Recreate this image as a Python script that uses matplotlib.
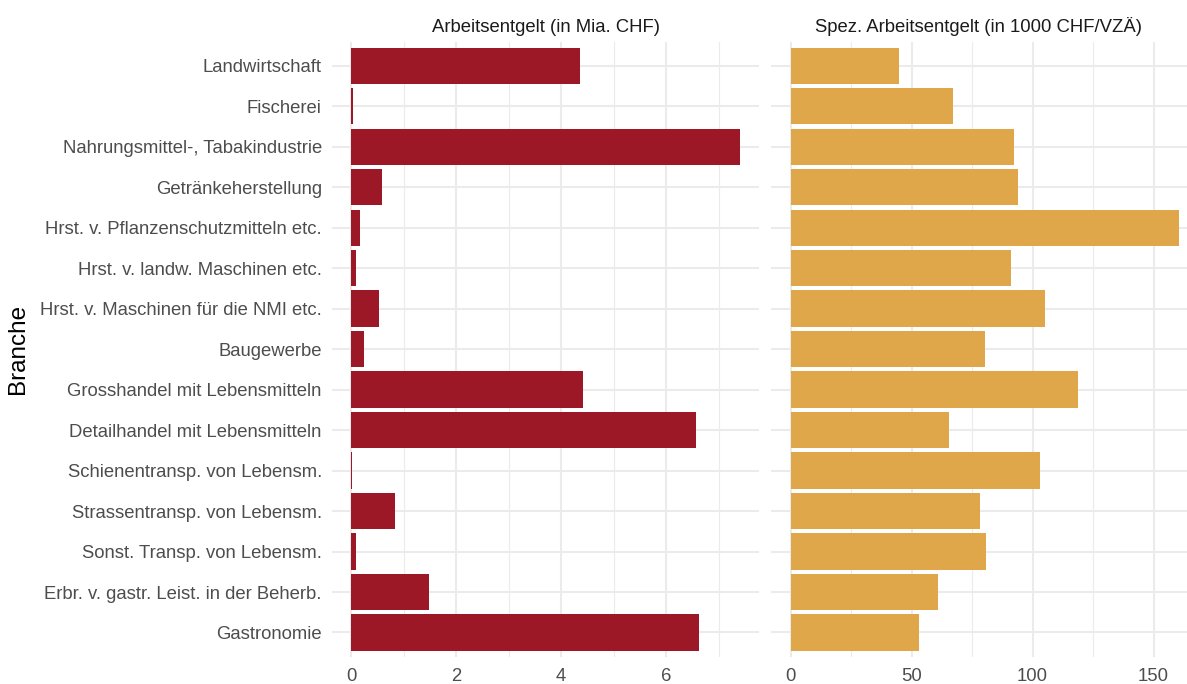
import matplotlib
matplotlib.use("Agg")
import matplotlib.pyplot as plt
from matplotlib.ticker import MultipleLocator

# Werte
branchen = [
    "Landwirtschaft",
    "Fischerei",
    "Nahrungsmittel-, Tabakindustrie",
    "Getränkeherstellung",
    "Hrst. v. Pflanzenschutzmitteln etc.",
    "Hrst. v. landw. Maschinen etc.",
    "Hrst. v. Maschinen für die NMI etc.",
    "Baugewerbe",
    "Grosshandel mit Lebensmitteln",
    "Detailhandel mit Lebensmitteln",
    "Schienentransp. von Lebensm.",
    "Strassentransp. von Lebensm.",
    "Sonst. Transp. von Lebensm.",
    "Erbr. v. gastr. Leist. in der Beherb.",
    "Gastronomie",
]
arbeitsentgelt = [4.36, 0.03, 7.41, 0.59, 0.18, 0.09, 0.53, 0.24, 4.41, 6.58,
                  0.01, 0.84, 0.09, 1.49, 6.63]
spez_entgelt = [44.6, 67.0, 92.3, 94.0, 160.5, 91.2, 105.0, 80.3, 118.6, 65.3,
                103.0, 78.4, 80.8, 61.0, 53.0]

titel = ["Arbeitsentgelt (in Mia. CHF)", "Spez. Arbeitsentgelt (in 1000 CHF/VZÄ)"]

plt.rcParams['font.family'] = ['Liberation Sans', 'DejaVu Sans']

rot = "#9D1827"
orange = "#DFA64A"
grid_col = "#EBEBEB"

fig = plt.figure(figsize=(11.87, 6.84), dpi=100)
ax1 = fig.add_axes([0.2800, 0.0398, 0.3594, 0.8995])
ax2 = fig.add_axes([0.6495, 0.0398, 0.3505, 0.8995])

pos = list(range(len(branchen)))


def style_panel(ax, major, minor, xlim, title):
    ax.set_xlim(*xlim)
    ax.set_ylim(len(branchen) - 0.4, -0.6)
    ax.xaxis.set_major_locator(MultipleLocator(major))
    ax.xaxis.set_minor_locator(MultipleLocator(minor))
    ax.grid(True, which='major', axis='both', color=grid_col, lw=1.5, zorder=0)
    ax.grid(True, which='minor', axis='x', color=grid_col, lw=0.8, zorder=0)
    ax.set_axisbelow(True)
    for s in ax.spines.values():
        s.set_visible(False)
    ax.tick_params(axis='both', which='both', length=0, labelsize=13.3,
                   labelcolor="#4D4D4D")
    ax.tick_params(axis='y', pad=7.6)
    ax.tick_params(axis='x', pad=8)
    ax.set_title(title, fontsize=13.3, color="#1A1A1A", pad=7)


ax1.barh(pos, arbeitsentgelt, height=0.9, color=rot, zorder=2)
ax2.barh(pos, spez_entgelt, height=0.9, color=orange, zorder=2)

style_panel(ax1, 2, 1, (-0.356, 7.77), titel[0])
style_panel(ax2, 50, 25, (-8.1, 163.8), titel[1])

ax1.set_yticks(pos)
ax1.set_yticklabels(branchen)
ax2.set_yticks(pos)
ax2.set_yticklabels([])

fig.text(18 / 1187, 1 - 349 / 684, "Branche", rotation=90, fontsize=17.5,
         color="black", ha="center", va="center")

fig.savefig("out.png", dpi=100, facecolor="white")
